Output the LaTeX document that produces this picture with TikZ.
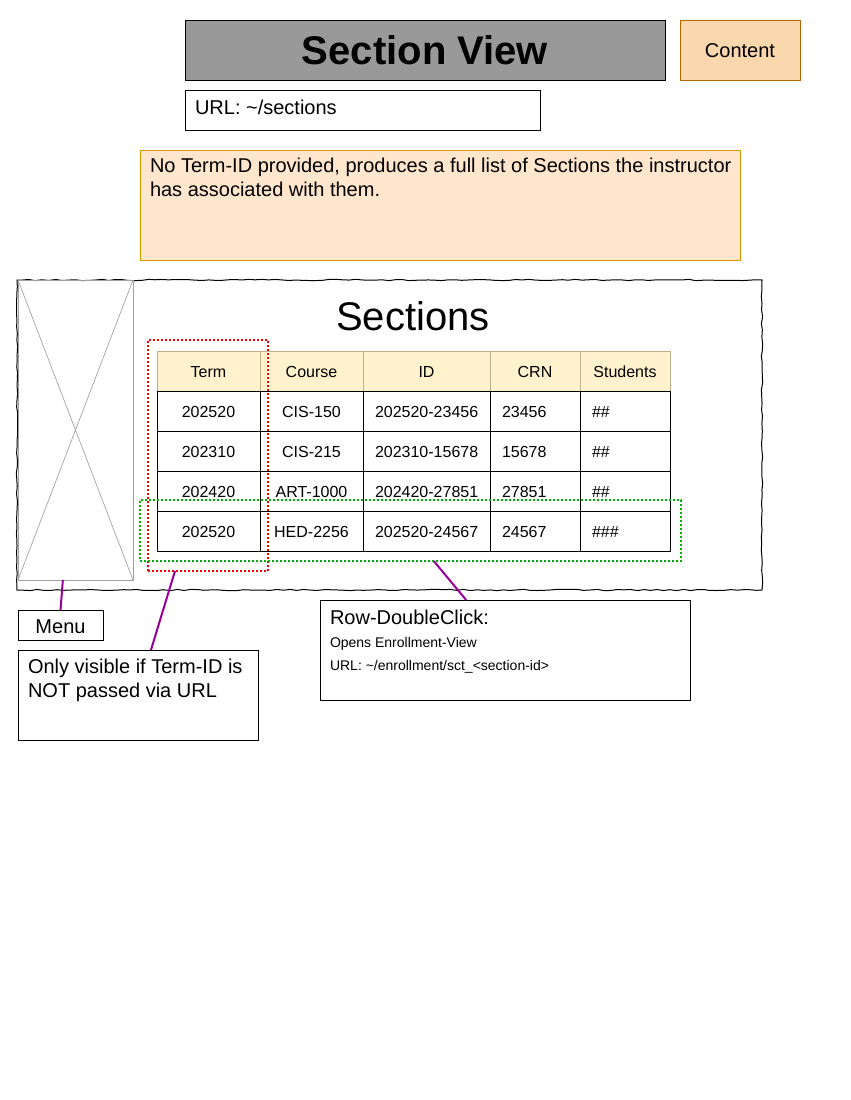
\documentclass[tikz,border=0pt]{standalone}
\usepackage{fontspec}
\setmainfont{Liberation Sans}
\usetikzlibrary{decorations.pathmorphing,calc}
\definecolor{titlegray}{HTML}{999999}
\definecolor{contentfill}{HTML}{FAD7AC}
\definecolor{contentline}{HTML}{B46504}
\definecolor{notefill}{HTML}{FFE6CC}
\definecolor{noteline}{HTML}{D79B00}
\definecolor{headfill}{HTML}{FFF2CC}
\definecolor{headline}{HTML}{C2B088}
\definecolor{linkpurple}{HTML}{990099}
\definecolor{dotred}{HTML}{FF0000}
\definecolor{dotgreen}{HTML}{00B000}
\definecolor{imggray}{HTML}{A0A0A0}
\begin{document}
\begin{tikzpicture}[x=0.75pt,y=-0.75pt,line width=0.75pt,
  box/.style={draw,anchor=north west,inner sep=0pt,outer sep=0pt},
  txt/.style={inner sep=0pt,outer sep=0pt},
  big/.style={font=\fontsize{15pt}{18pt}\selectfont},
  mid/.style={font=\fontsize{12pt}{14pt}\selectfont},
  small/.style={font=\fontsize{10.5pt}{13pt}\selectfont},
  link/.style={draw=linkpurple,line width=1.5pt},
  dotbox/.style={box,line width=1.5pt,dash pattern=on 1.5pt off 1.5pt}]
% canvas
\fill[white] (0,0) rectangle (850,1100);
\useasboundingbox (0,0) rectangle (850,1100);

% header
\node[box,fill=titlegray,minimum width=360pt,minimum height=45pt] (title) at (185,20) {};
\node[txt,anchor=base,font=\fontsize{30pt}{36pt}\selectfont\bfseries] (titleT) at (425,64) {Section View};
\node[box,draw=contentline,fill=contentfill,minimum width=90pt,minimum height=45pt] (content) at (680,20) {};
\node[txt,big,anchor=base] (contentT) at (740,57) {Content};
\node[box,minimum width=266.25pt,minimum height=30pt] (url) at (185,90) {};
\node[txt,big,anchor=base west] (urlT) at (195,114) {URL: \textasciitilde/sections};

% note
\node[box,draw=noteline,fill=notefill,minimum width=450pt,minimum height=82.5pt] (note) at (140,150) {};
\node[txt,big,anchor=north west,align=left] (noteT) at (150,158.5)
  {No Term-ID provided, produces a full list of Sections the instructor\\has associated with them.};

% outer sketch frame
\draw[decorate,decoration={random steps,segment length=5pt,amplitude=0.5pt}] (17,280) rectangle (762,590);
\node[box,draw=imggray,minimum width=86.25pt,minimum height=225pt] (img) at (18,280) {};
\draw[imggray,line width=0.5pt] (img.north west) -- (img.south east) (img.north east) -- (img.south west);
\node[txt,anchor=base,font=\fontsize{30pt}{36pt}\selectfont] (secT) at (413,330) {Sections};

% table
\fill[headfill] (157,351) rectangle (670,391);
\draw[headline] (157,391) -- (157,351) -- (670,351) -- (670,391);
\foreach \x in {260,363,490,580} \draw[headline] (\x,351) -- (\x,391);
\draw (157,391) rectangle (670,551);
\foreach \y in {431,471,511} \draw (157,\y) -- (670,\y);
\foreach \x in {260,363,490,580} \draw (\x,391) -- (\x,551);

\node[txt,mid,anchor=base] (h1) at (208.5,377) {Term};
\node[txt,mid,anchor=base] (h2) at (311.5,377) {Course};
\node[txt,mid,anchor=base] (h3) at (426.5,377) {ID};
\node[txt,mid,anchor=base] (h4) at (535,377) {CRN};
\node[txt,mid,anchor=base] (h5) at (625,377) {Students};

\foreach \t/\c/\i/\n/\s [count=\r] in {
  202520/CIS-150/202520-23456/23456/\#\#,
  202310/CIS-215/202310-15678/15678/\#\#,
  202420/ART-1000/202420-27851/27851/\#\#,
  202520/HED-2256/202520-24567/24567/\#\#\#}{
  \pgfmathsetmacro{\yb}{377+40*\r}
  \node[txt,mid,anchor=base] (term\r) at (208.5,\yb) {\t};
  \node[txt,mid,anchor=base] (course\r) at (311.5,\yb) {\c};
  \node[txt,mid,anchor=base west] (id\r) at (375,\yb) {\i};
  \node[txt,mid,anchor=base west] (crn\r) at (502,\yb) {\n};
  \node[txt,mid,anchor=base west] (stu\r) at (592,\yb) {\s};
}

% highlight boxes
\node[dotbox,draw=dotred,minimum width=90pt,minimum height=173.25pt] (red) at (148,340) {};
\node[dotbox,draw=dotgreen,minimum width=405.75pt,minimum height=45.75pt] (green) at (140,500) {};

% annotations
\node[box,minimum width=63.75pt,minimum height=22.5pt] (menu) at (18,610) {};
\node[txt,big,anchor=base] (menuT) at (60.5,633) {Menu};
\node[box,minimum width=180pt,minimum height=67.5pt] (only) at (18,650) {};
\node[txt,big,anchor=north west,align=left] (onlyT) at (28,658.5) {Only visible if Term-ID is\\NOT passed via URL};
\node[box,minimum width=277.5pt,minimum height=75pt] (row) at (320,600) {};
\node[txt,big,anchor=base west] (rowA) at (330,624) {Row-DoubleClick:};
\node[txt,small,anchor=base west] (rowB) at (330,647) {Opens Enrollment-View};
\node[txt,small,anchor=base west] (rowC) at (330,670) {URL: \textasciitilde/enrollment/sct\_<section-id>};

% connectors
\draw[link] ($(img.south west)!0.39!(img.south east)$) -- (menu.north);
\draw[link] ($(red.south west)!0.225!(red.south east)$) -- ($(only.north west)!0.554!(only.north east)$);
\draw[link] ($(green.south west)!0.543!(green.south east)$) -- ($(row.north west)!0.395!(row.north east)$);
\end{tikzpicture}
\end{document}
